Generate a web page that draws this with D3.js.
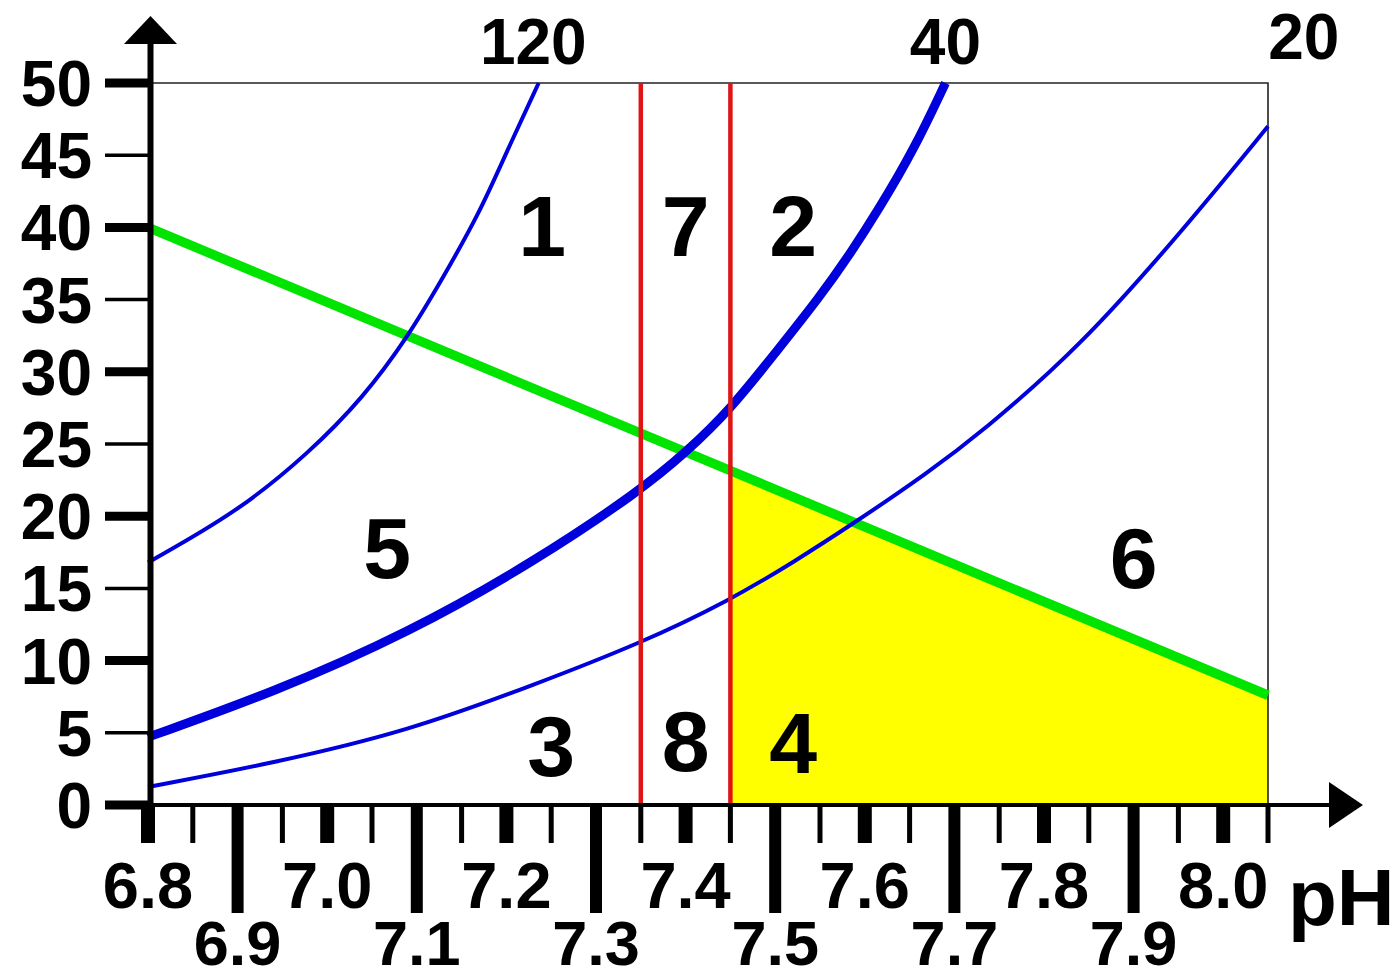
<!DOCTYPE html>
<html>
<head>
<meta charset="utf-8">
<script src="https://cdn.jsdelivr.net/npm/d3@7"></script>
<style>
  html, body { margin: 0; padding: 0; background: #fff; }
  svg { display: block; }
  text { font-family: "Liberation Sans", Arial, sans-serif; font-weight: bold; fill: #000; }
</style>
</head>
<body>
<svg id="chart"></svg>
<script>
// isobars, [pH, HCO3]
const pco2_120 = [[6.80,16.8],[6.90,20.3],[6.98,24.4],[7.04,28.2],[7.09,32.4],[7.13,36.6],[7.17,41.0],[7.20,45.2],[7.236,50]];
const pco2_40 = [[6.80,4.7],[6.94,7.8],[7.09,11.9],[7.23,16.8],[7.35,21.8],[7.40,24.4],[7.45,27.4],[7.50,31.3],[7.55,35.2],[7.585,38.3],[7.615,41.2],[7.655,45.4],[7.69,50]];
const pco2_20 = [[6.80,1.25],[6.94,2.9],[7.09,5.1],[7.23,8.3],[7.35,11.2],[7.45,14.2],[7.52,16.8],[7.59,19.6],[7.67,23.0],[7.73,25.8],[7.84,31.7],[7.955,39.8],[8.05,47.0]];
const isobarNames = ["120", "40", "20"];
const isobarLabelPH = [7.23, 7.69, 8.09];
// buffer line
const bufferLine = [[6.80,40],[8.05,7.6]];
// normal pH limits
const redPH = [7.35, 7.45];
// yellow region
const yellowZone = [[7.45,0],[7.45,23.2],[8.05,7.6],[8.05,0]];
// zone numbers
const zones = [
  {t:"1", ph:7.24, v:40.2}, {t:"7", ph:7.40, v:40.2}, {t:"2", ph:7.52, v:40.2},
  {t:"5", ph:7.067, v:17.9}, {t:"6", ph:7.90, v:17.2},
  {t:"3", ph:7.25, v:4.15}, {t:"8", ph:7.40, v:4.5}, {t:"4", ph:7.52, v:4.36}
];
const yTicks = d3.range(0, 51, 5);
const xTicks = d3.range(0, 26).map(i => +(6.8 + i * 0.05).toFixed(2));
const xLabelsTop = ["6.8","7.0","7.2","7.4","7.6","7.8","8.0"];
const xLabelsBottom = ["6.9","7.1","7.3","7.5","7.7","7.9"];

const W = 1399, H = 979;
const svg = d3.select("#chart").attr("width", W).attr("height", H);

const x = d3.scaleLinear().domain([6.8, 8.05]).range([148, 1268]);
const y = d3.scaleLinear().domain([0, 50]).range([805, 83]);

// yellow zone
svg.append("path")
  .attr("d", d3.line().x(d => x(d[0])).y(d => y(d[1]))(yellowZone) + "Z")
  .attr("fill", "#ffff00");

// frame (top, right)
svg.append("path")
  .attr("d", `M${x(6.8)},${y(50)}H${x(8.05)}V${y(0)}`)
  .attr("fill", "none").attr("stroke", "#222").attr("stroke-width", 1.6);

// buffer line
svg.append("path")
  .attr("d", d3.line().x(d => x(d[0])).y(d => y(d[1]))(bufferLine))
  .attr("stroke", "#00e400").attr("stroke-width", 9.5).attr("fill", "none");

// isobars
const curve = d3.line().x(d => x(d[0])).y(d => y(d[1])).curve(d3.curveBasis);
[[pco2_120, 4], [pco2_40, 9], [pco2_20, 4]].forEach(([data, w]) => {
  svg.append("path").attr("d", curve(data))
    .attr("fill", "none").attr("stroke", "#0000dc").attr("stroke-width", w)
    .attr("stroke-linejoin", "round");
});

// red verticals
svg.selectAll("line.red").data(redPH).join("line").attr("class", "red")
  .attr("x1", d => x(d)).attr("x2", d => x(d))
  .attr("y1", y(0)).attr("y2", y(50))
  .attr("stroke", "#e01414").attr("stroke-width", 4.5);

// y axis
const yAxis = svg.append("g");
yAxis.selectAll("line").data(yTicks).join("line")
  .attr("x1", 105).attr("x2", 150)
  .attr("y1", d => y(d)).attr("y2", d => y(d))
  .attr("stroke", "#000").attr("stroke-width", d => d % 10 === 0 ? 9 : 3.5);
yAxis.selectAll("text").data(yTicks).join("text")
  .attr("x", 92).attr("y", d => y(d) + 23)
  .attr("text-anchor", "end").attr("font-size", 64)
  .text(d => d);
svg.append("line").attr("x1", 150.5).attr("x2", 150.5).attr("y1", 808).attr("y2", 38)
  .attr("stroke", "#000").attr("stroke-width", 6);
svg.append("path").attr("d", "M150.5,16L124,44H177Z").attr("fill", "#000");

// x axis
svg.append("line").attr("x1", 105).attr("x2", 1335).attr("y1", 805).attr("y2", 805)
  .attr("stroke", "#000").attr("stroke-width", 4);
svg.append("path").attr("d", "M1363,805L1329,782V828Z").attr("fill", "#000");
svg.selectAll("line.xt").data(xTicks).join("line").attr("class", "xt")
  .attr("x1", d => x(d)).attr("x2", d => x(d))
  .attr("y1", 805)
  .attr("y2", (d, i) => i % 4 === 2 ? 913 : 843)
  .attr("stroke", "#000")
  .attr("stroke-width", (d, i) => i % 2 === 1 ? 5 : (i % 4 === 0 ? 14 : 12));
svg.selectAll("text.xl1").data(xLabelsTop).join("text").attr("class", "xl1")
  .attr("x", d => x(+d)).attr("y", 908)
  .attr("text-anchor", "middle").attr("font-size", 65).text(d => d);
svg.selectAll("text.xl2").data(xLabelsBottom).join("text").attr("class", "xl2")
  .attr("x", d => x(+d)).attr("y", 965)
  .attr("text-anchor", "middle").attr("font-size", 63).text(d => d);
svg.append("text").attr("x", 1288).attr("y", 925).attr("font-size", 80).text("pH");

// isobar labels
svg.selectAll("text.iso").data(isobarNames).join("text").attr("class", "iso")
  .attr("x", (d, i) => x(isobarLabelPH[i])).attr("y", (d, i) => i === 2 ? 59 : 64)
  .attr("text-anchor", "middle").attr("font-size", 64).text(d => d);

// zone numbers
svg.selectAll("text.zone").data(zones).join("text").attr("class", "zone")
  .attr("x", d => x(d.ph)).attr("y", d => y(d.v) + 31)
  .attr("text-anchor", "middle").attr("font-size", 86).text(d => d.t);
</script>
</body>
</html>
